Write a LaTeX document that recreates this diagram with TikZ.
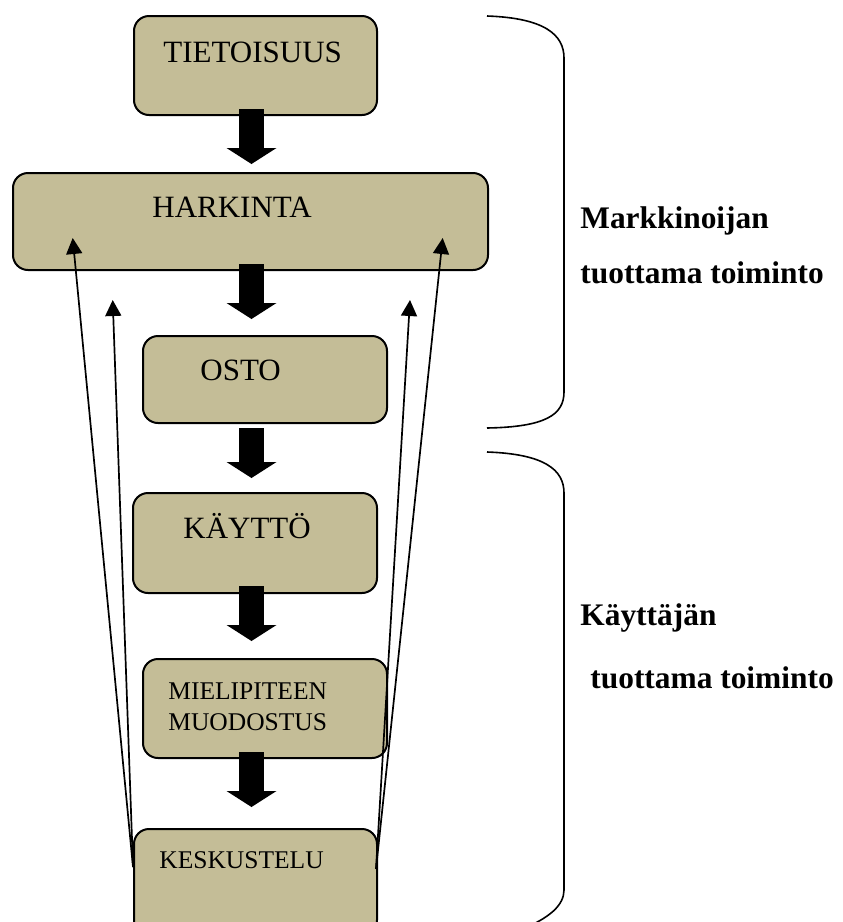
\documentclass[tikz,border=0pt]{standalone}
\usepackage{fontspec}
\setmainfont{Liberation Serif}
\usetikzlibrary{arrows.meta}

\definecolor{stagetan}{HTML}{C4BD97}

\tikzset{
  stage/.style={draw, fill=stagetan, rounded corners=7.5pt, line width=1pt, inner sep=0pt},
  stagetext/.style={anchor=base west, inner sep=0pt, font=\fontsize{15.5}{18}\selectfont},
  smalltext/.style={anchor=base west, inner sep=0pt, font=\fontsize{12.75}{15}\selectfont},
  sidetext/.style={anchor=base west, inner sep=0pt, font=\bfseries\fontsize{15.7}{18}\selectfont},
  bigarrow/.style={line width=12.5pt, -{Triangle[width=25pt, length=8pt, line width=0pt]}},
  backarrow/.style={line width=0.85pt, -{Triangle[width=8pt, length=8pt]}},
  brace/.style={line width=0.8pt}
}

\begin{document}
\begin{tikzpicture}[x=0.5pt, y=-0.5pt]
    \useasboundingbox (0,0) rectangle (842,922);
    \clip (0,0) rectangle (842,922);

    \coordinate (axis) at (251.5, 0);
    \coordinate (baseL) at (133, 867);
    \coordinate (baseR) at (376, 869);
    \coordinate (tipLo) at (72.7, 238);
    \coordinate (tipLi) at (112.7, 300);
    \coordinate (tipRo) at (442.7, 238);
    \coordinate (tipRi) at (410, 300);

	\node [stage, minimum width=121.5pt, minimum height=49.5pt] (tieto) at (255.5, 65.5) {};
	\node [stage, minimum width=237.5pt, minimum height=48.5pt] (hark) at (250.5, 221.5) {};
	\node [stage, minimum width=122pt, minimum height=43.5pt] (osto) at (265, 379.5) {};
	\node [stage, minimum width=122pt, minimum height=50pt] (kaytto) at (255, 543) {};
	\node [stage, minimum width=122pt, minimum height=49.5pt] (mieli) at (265, 708.5) {};
	\node [stage, minimum width=121.5pt, minimum height=53pt] (kesk) at (255.5, 882) {};

	\node [stagetext] (tietoT) at (163, 62) {TIETOISUUS};
	\node [stagetext] (harkT) at (152, 217) {HARKINTA};
	\node [stagetext] (ostoT) at (200, 380) {OSTO};
	\node [stagetext] (kayttoT) at (183, 538) {KÄYTTÖ};
	\node [smalltext] (mieliT) at (168, 699) {MIELIPITEEN};
	\node [smalltext] (muodT) at (168, 730) {MUODOSTUS};
	\node [smalltext] (keskT) at (159, 868) {KESKUSTELU};

	\draw [bigarrow] ([yshift=3.5pt]axis |- tieto.south) -- ([yshift=4pt]axis |- hark.north);
	\draw [bigarrow] ([yshift=3.5pt]axis |- hark.south) -- ([yshift=8pt]axis |- osto.north);
	\draw [bigarrow] ([yshift=-2pt]axis |- osto.south) -- ([yshift=7pt]axis |- kaytto.north);
	\draw [bigarrow] ([yshift=4pt]axis |- kaytto.south) -- ([yshift=8.5pt]axis |- mieli.north);
	\draw [bigarrow] ([yshift=3.5pt]axis |- mieli.south) -- ([yshift=10.5pt]axis |- kesk.north);

	\draw [backarrow] (baseL) -- (tipLo);
	\draw [backarrow] (baseL) -- (tipLi);
	\draw [backarrow] (baseR) -- (tipRo);
	\draw [backarrow] (baseR) -- (tipRi);

	\draw [brace] (487,16) .. controls (545,18) and (564,35) .. (564,58) -- (564,392) .. controls (564,415) and (545,427) .. (487,428);
	\draw [brace] (487,452) .. controls (545,454) and (564,470) .. (564,493) -- (564,890) .. controls (564,905) and (550,918) .. (520,930);

	\node [sidetext] (markT) at (580, 228) {Markkinoijan};
	\node [sidetext] (markT2) at (580, 283) {tuottama toiminto};
	\node [sidetext] (kayttT) at (580, 625) {Käyttäjän};
	\node [sidetext] (kayttT2) at (590, 688) {tuottama toiminto};
\end{tikzpicture}
\end{document}
